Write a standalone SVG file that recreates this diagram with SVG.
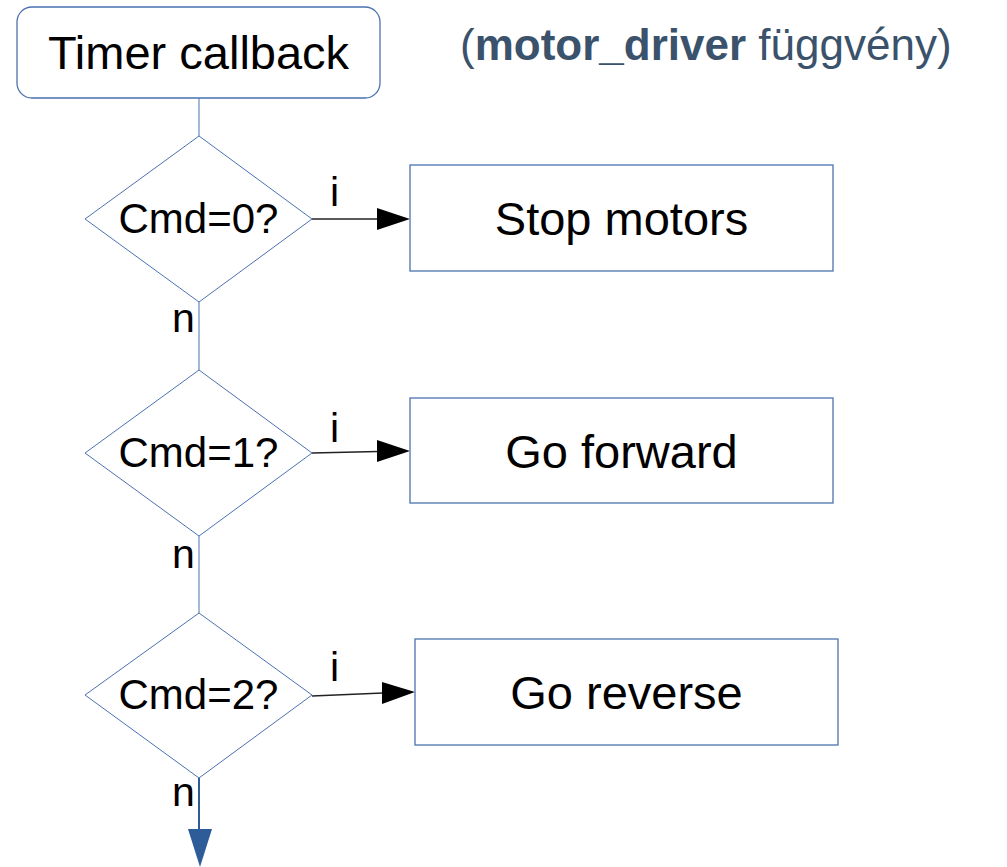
<svg xmlns="http://www.w3.org/2000/svg" width="1007" height="867" viewBox="0 0 1007 867">
  <style>
    .box { fill: #ffffff; stroke: #4a72b0; stroke-width: 1.3; }
    .dia { fill: #ffffff; stroke: #4a72b0; stroke-width: 1; }
    .lbl { font-family: "Liberation Sans", Arial, sans-serif; fill: #000000; }
    .big { font-size: 47px; text-anchor: middle; }
    .cmd { font-size: 42px; text-anchor: middle; }
    .yn { font-size: 41px; }
    .flow { stroke: #4a72b0; stroke-width: 1; fill: none; }
    .yes { stroke: #222222; stroke-width: 1.3; fill: none; }
    .head { fill: #000000; }
  </style>
  <rect width="1007" height="867" fill="#ffffff"/>

  <g id="connectors">
    <line class="flow" x1="199" y1="98" x2="199" y2="136"/>
    <line class="flow" x1="199" y1="302" x2="199" y2="370"/>
    <line class="flow" x1="199" y1="536" x2="199" y2="613"/>
    <line x1="199" y1="778" x2="199" y2="830" stroke="#2e5c99" stroke-width="2"/>
    <polygon points="188,829 212,829 200,867" fill="#2e5c99"/>

    <line class="yes" x1="312" y1="219" x2="378" y2="219"/>
    <polygon class="head" points="377,208 410,219 377,230"/>
    <line class="yes" x1="312" y1="453" x2="378" y2="451.5"/>
    <polygon class="head" points="377,440 410,451 377,462"/>
    <line class="yes" x1="312" y1="696" x2="383" y2="693"/>
    <polygon class="head" points="382,682 415,692 382,704"/>

    <text class="lbl yn" x="330" y="206">i</text>
    <text class="lbl yn" x="330" y="442">i</text>
    <text class="lbl yn" x="330" y="681">i</text>
    <text class="lbl yn" x="172" y="332">n</text>
    <text class="lbl yn" x="172" y="568">n</text>
    <text class="lbl yn" x="172" y="806">n</text>
  </g>

  <g id="title">
    <text x="460" y="60" font-family="Liberation Sans, Arial, sans-serif" font-size="44" fill="#3a526b">(<tspan font-weight="bold">motor_driver</tspan> függvény)</text>
  </g>

  <g id="timer">
    <rect class="box" x="17" y="7" width="363" height="91" rx="15" ry="15"/>
    <text class="lbl big" x="198.5" y="69" font-size="48">Timer callback</text>
  </g>

  <g id="cmd0">
    <polygon class="dia" points="199,136 312,219 199,302 85,219"/>
    <text class="lbl cmd" x="198.5" y="233">Cmd=0?</text>
  </g>
  <g id="stop">
    <rect class="box" x="410" y="165" width="423" height="106"/>
    <text class="lbl big" x="621.5" y="235">Stop motors</text>
  </g>

  <g id="cmd1">
    <polygon class="dia" points="199,370 312,453 199,536 85,453"/>
    <text class="lbl cmd" x="198.5" y="467">Cmd=1?</text>
  </g>
  <g id="forward">
    <rect class="box" x="410" y="398" width="423" height="105"/>
    <text class="lbl big" x="621.5" y="468">Go forward</text>
  </g>

  <g id="cmd2">
    <polygon class="dia" points="199,613 312,695 199,778 85,695"/>
    <text class="lbl cmd" x="198.5" y="709">Cmd=2?</text>
  </g>
  <g id="reverse">
    <rect class="box" x="415" y="639" width="423" height="106"/>
    <text class="lbl big" x="626.5" y="709">Go reverse</text>
  </g>
</svg>
